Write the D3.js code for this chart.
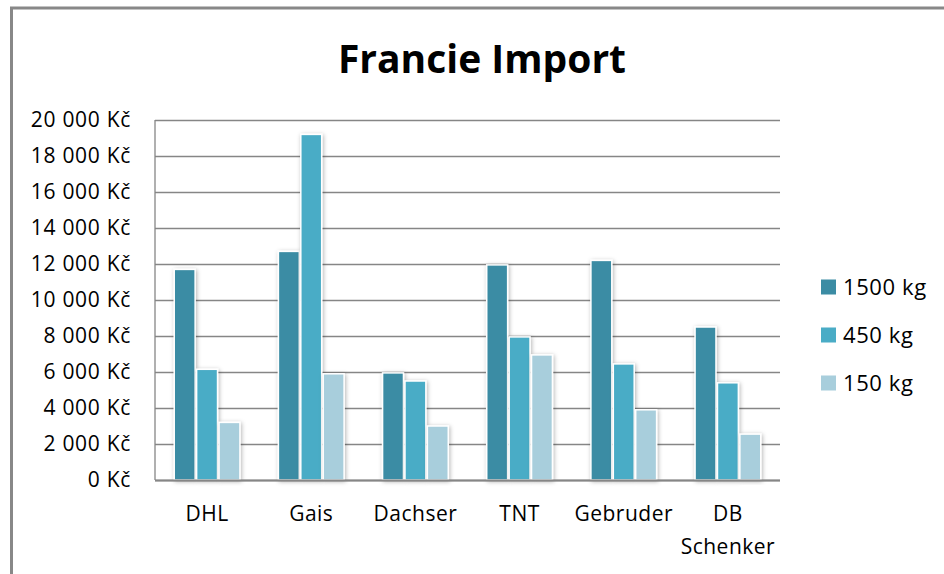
<!DOCTYPE html>
<html>
<head>
<meta charset="utf-8">
<script src="https://cdn.jsdelivr.net/npm/d3@7"></script>
<style>
  body { margin: 0; background: #fff; }
  svg { display: block; font-family: "Open Sans", sans-serif; }
</style>
</head>
<body>
<div id="chart"></div>
<script>
const svgWidth = 944
const svgHeight = 574

// data
const carriers = ["DHL", "Gais", "Dachser", "TNT", "Gebruder", "DB Schenker"]
const weights = ["1500 kg", "450 kg", "150 kg"]
const price1500 = [11700, 12700, 5950, 11950, 12200, 8500]
const price450 = [6150, 19200, 5500, 7950, 6450, 5400]
const price150 = [3200, 5900, 3000, 6950, 3900, 2550]
const yTicks = [0, 2000, 4000, 6000, 8000, 10000, 12000, 14000, 16000, 18000, 20000]
const colors = ["#3b8ca4", "#4aacc6", "#a8cedc"]

let plot = { left: 155, right: 780, top: 120, bottom: 480 }

let svg = d3
  .select("#chart")
  .append("svg")
  .attr("width", svgWidth)
  .attr("height", svgHeight)

let defs = svg.append("defs")
defs.append("filter")
  .attr("id", "shadow")
  .attr("x", "-30%").attr("y", "-10%")
  .attr("width", "160%").attr("height", "120%")
  .append("feDropShadow")
  .attr("dx", 1).attr("dy", 1)
  .attr("stdDeviation", 2)
  .attr("flood-color", "#000")
  .attr("flood-opacity", 0.3)

// outer frame (only top and left edges visible)
svg.append("path")
  .attr("d", `M11.5,${svgHeight} V8 H${svgWidth}`)
  .attr("fill", "none")
  .attr("stroke", "#888")
  .attr("stroke-width", 3)

svg.append("text")
  .attr("x", 482)
  .attr("y", 73)
  .attr("text-anchor", "middle")
  .style("font-size", "39px")
  .style("font-weight", "bold")
  .text("Francie Import")

let x0 = d3.scaleBand()
  .domain(carriers)
  .range([plot.left, plot.right])
  .paddingInner(0.355)
  .paddingOuter(0.1775)

let x1 = d3.scaleBand()
  .domain(weights)
  .range([0, x0.bandwidth()])

let y = d3.scaleLinear()
  .domain([0, 20000])
  .range([plot.bottom, plot.top])

let kc = d => d3.format(",")(d).replace(/,/g, " ") + " Kč"

let yAxis = svg.append("g")
  .attr("transform", `translate(${plot.left},0)`)
  .call(d3.axisLeft(y)
    .tickValues(yTicks)
    .tickSize(-(plot.right - plot.left))
    .tickPadding(24)
    .tickFormat(kc))

yAxis.select(".domain").remove()
yAxis.selectAll(".tick line")
  .attr("stroke", "#868686")
  .attr("stroke-width", 1.3)
yAxis.selectAll(".tick text")
  .attr("fill", "#000")
  .style("font-size", "21px")
  .style("letter-spacing", "0.7px")
  .style("font-family", "'Open Sans', sans-serif")

svg.append("line")
  .attr("x1", plot.left).attr("x2", plot.left)
  .attr("y1", plot.top).attr("y2", plot.bottom)
  .attr("stroke", "#868686")
  .attr("stroke-width", 1.3)

let series = [price1500, price450, price150]
let rows = []
carriers.forEach((c, i) => {
  weights.forEach((w, j) => {
    rows.push({ carrier: c, weight: w, value: series[j][i], color: colors[j] })
  })
})

svg.append("g")
  .selectAll("rect")
  .data(rows)
  .enter()
  .append("rect")
  .attr("x", d => x0(d.carrier) + x1(d.weight) + 0.75)
  .attr("y", d => y(d.value))
  .attr("width", x1.bandwidth() - 1.5)
  .attr("height", d => y(0) - y(d.value))
  .attr("fill", d => d.color)
  .attr("stroke", "#fff")
  .attr("stroke-width", 1.5)
  .attr("filter", "url(#shadow)")

// x axis line on top of the bars
svg.append("line")
  .attr("x1", plot.left).attr("x2", plot.right)
  .attr("y1", plot.bottom + 0.5).attr("y2", plot.bottom + 0.5)
  .attr("stroke", "#868686")
  .attr("stroke-width", 2)

let xLabels = svg.append("g")
  .selectAll("text")
  .data(carriers)
  .enter()
  .append("text")
  .attr("x", d => x0(d) + x0.bandwidth() / 2)
  .attr("y", 521)
  .attr("text-anchor", "middle")
  .style("font-size", "21px")
  .style("letter-spacing", "0.5px")

xLabels.each(function(d) {
  let words = d.split(" ")
  let t = d3.select(this)
  words.forEach((w, k) => {
    t.append("tspan")
      .attr("x", x0(d) + x0.bandwidth() / 2)
      .attr("dy", k === 0 ? 0 : 33)
      .text(w)
  })
})

let legend = svg.append("g")
  .selectAll("g")
  .data(weights)
  .enter()
  .append("g")
  .attr("transform", (d, i) => `translate(821, ${287 + i * 48})`)

legend.append("rect")
  .attr("x", 0)
  .attr("y", -7.5)
  .attr("width", 15)
  .attr("height", 15)
  .attr("fill", (d, i) => colors[i])

legend.append("text")
  .attr("x", 22)
  .attr("y", 7.5)
  .style("font-size", "22px")
  .style("letter-spacing", "0.6px")
  .text(d => d)
</script>
</body>
</html>
